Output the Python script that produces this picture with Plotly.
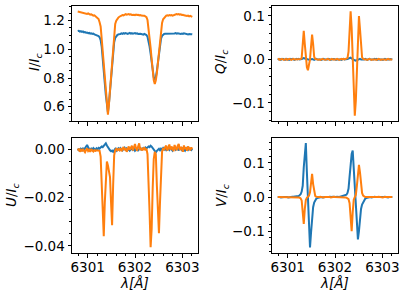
import numpy as np
import plotly.graph_objects as go

# Regularly sampled wavelength grid (Angstrom), 111 points
WL_START = 6300.79
WL_STEP = 0.022
N_PTS = 111
wavelength = np.round(WL_START + WL_STEP * np.arange(N_PTS), 3)

# ---- Stokes I / Ic ----
I_blue = [
    1.128, 1.130, 1.124, 1.127, 1.122, 1.125, 1.119, 1.121, 1.116, 1.118, 1.113, 1.115, 1.110, 1.112, 1.108, 1.110, 1.105, 1.103, 1.100,
    1.098, 1.093, 1.085, 1.065, 1.020, 0.950, 0.870, 0.765, 0.680, 0.605, 0.560, 0.625, 0.720, 0.820, 0.910, 0.995, 1.050, 1.080, 1.093, 1.100, 1.105,
    1.105, 1.108, 1.112, 1.109, 1.113, 1.110, 1.114, 1.111, 1.108, 1.112, 1.115, 1.110, 1.113, 1.109, 1.112, 1.114, 1.110, 1.112, 1.108, 1.111, 1.109, 1.107, 1.105, 1.103,
    1.108, 1.105, 1.100, 1.088, 1.060, 1.020, 0.970, 0.910, 0.850, 0.805, 0.785, 0.805, 0.850, 0.910, 0.975, 1.035, 1.075, 1.095, 1.104, 1.108, 1.110,
    1.110, 1.108, 1.112, 1.109, 1.113, 1.110, 1.112, 1.108, 1.111, 1.114, 1.110, 1.112, 1.109, 1.111, 1.107, 1.110, 1.108, 1.112, 1.109, 1.106, 1.108, 1.105, 1.107, 1.104, 1.106, 1.105,
]
I_orange = [
    1.264, 1.262, 1.265, 1.258, 1.260, 1.256, 1.252, 1.255, 1.250, 1.248, 1.251, 1.246, 1.243, 1.245, 1.240, 1.236, 1.238, 1.232, 1.228,
    1.222, 1.212, 1.190, 1.160, 1.075, 0.980, 0.885, 0.770, 0.680, 0.595, 0.544, 0.620, 0.720, 0.830, 0.930, 1.040, 1.120, 1.178, 1.200, 1.213, 1.222,
    1.228, 1.232, 1.236, 1.240, 1.238, 1.243, 1.246, 1.242, 1.244, 1.247, 1.243, 1.245, 1.241, 1.244, 1.242, 1.239, 1.243, 1.240, 1.242, 1.238, 1.240, 1.236, 1.238, 1.235,
    1.235, 1.232, 1.225, 1.205, 1.150, 1.080, 1.010, 0.930, 0.850, 0.785, 0.758, 0.785, 0.835, 0.910, 0.985, 1.065, 1.140, 1.185, 1.210, 1.222, 1.230,
    1.236, 1.238, 1.235, 1.240, 1.237, 1.240, 1.236, 1.238, 1.241, 1.243, 1.246, 1.244, 1.247, 1.243, 1.245, 1.240, 1.242, 1.238, 1.236, 1.239, 1.233, 1.236, 1.231, 1.234, 1.229, 1.227,
]

# ---- Stokes Q / Ic ----
Q_blue = [
    0.001, 0.000, 0.001, -0.001, 0.000, 0.001, 0.000, -0.001, 0.001, 0.000, 0.000, -0.001, 0.001, 0.000, 0.001, 0.000, -0.001, 0.000, 0.001,
    0.000, 0.001, 0.000, 0.000, 0.001, 0.002, 0.003, 0.002, 0.001, 0.000, -0.001, -0.001, 0.000, 0.001, 0.001, 0.000, -0.001, 0.000, 0.001, 0.000, 0.000,
    0.001, 0.000, -0.001, 0.000, 0.001, 0.000, 0.000, -0.001, 0.000, 0.001, 0.000, -0.001, 0.000, 0.001, 0.001, 0.000, -0.001, 0.000, 0.000, 0.001, 0.000, -0.001, 0.000, 0.001,
    0.000, 0.000, 0.001, 0.001, 0.002, 0.003, 0.004, 0.002, 0.000, -0.001, -0.002, -0.003, -0.002, -0.001, 0.000, 0.001, 0.000, 0.000, -0.001, 0.000, 0.001,
    0.000, -0.001, 0.000, 0.001, 0.000, 0.000, -0.001, 0.000, 0.001, 0.000, 0.001, -0.001, 0.000, 0.000, 0.001, 0.000, -0.001, 0.000, 0.001, 0.000, 0.000, -0.001, 0.000, 0.001, 0.000, 0.000,
]
Q_orange = [
    0.000, 0.001, -0.001, 0.000, 0.001, 0.000, -0.001, 0.000, 0.001, -0.001, 0.000, 0.001, 0.000, -0.001, 0.000, 0.001, 0.000, 0.000, 0.001,
    0.000, 0.000, 0.001, 0.001, 0.003, 0.030, 0.066, 0.035, 0.000, -0.018, -0.025, -0.015, 0.000, 0.030, 0.057, 0.035, 0.006, 0.001, 0.000, 0.000, -0.001,
    0.000, -0.001, 0.000, 0.001, 0.000, -0.001, -0.001, 0.000, 0.001, 0.000, -0.001, 0.000, 0.001, 0.000, 0.000, -0.001, 0.000, 0.001, 0.000, -0.001, 0.000, 0.001, 0.000, 0.001,
    0.000, 0.001, 0.001, 0.003, 0.018, 0.060, 0.111, 0.072, 0.015, -0.060, -0.130, -0.095, -0.020, 0.045, 0.100, 0.070, 0.022, 0.005, 0.001, 0.000, 0.000,
    0.000, -0.001, 0.000, 0.001, 0.000, -0.001, 0.000, 0.000, 0.001, 0.000, -0.001, 0.000, 0.001, 0.000, -0.001, 0.000, 0.000, 0.001, 0.000, -0.001, 0.000, 0.001, 0.000, 0.000, -0.001, 0.000,
]

# ---- Stokes U / Ic ----
U_blue = [
    -0.0005, 0.0003, -0.0008, 0.0002, -0.0003, 0.0006, -0.0002, 0.0004, 0.0010, 0.0018, 0.0008, 0.0002, -0.0004, 0.0003, -0.0002, 0.0005, 0.0001, -0.0003, 0.0004,
    0.0000, 0.0006, 0.0003, 0.0008, 0.0012, 0.0009, 0.0015, 0.0020, 0.0025, 0.0016, 0.0008, 0.0002, -0.0004, -0.0008, -0.0005, -0.0010, -0.0003, 0.0002, -0.0006, 0.0001, 0.0004,
    -0.0002, 0.0005, 0.0001, -0.0004, 0.0003, 0.0007, -0.0001, 0.0004, -0.0003, 0.0002, -0.0005, 0.0001, 0.0004, -0.0002, 0.0003, -0.0006, 0.0000, 0.0003, -0.0004, 0.0002, 0.0005, -0.0001, 0.0004, 0.0006,
    0.0003, 0.0008, 0.0004, 0.0010, 0.0012, 0.0009, 0.0015, 0.0011, 0.0006, -0.0002, -0.0008, -0.0012, -0.0006, -0.0003, 0.0002, -0.0004, 0.0003, -0.0002, 0.0005, -0.0001, 0.0004,
    -0.0003, 0.0002, 0.0006, -0.0002, 0.0004, 0.0001, -0.0005, 0.0003, 0.0008, -0.0001, 0.0005, 0.0002, -0.0004, 0.0006, 0.0001, -0.0003, 0.0004, 0.0000, -0.0006, 0.0003, 0.0007, -0.0002, 0.0004, 0.0001, -0.0003, 0.0002,
]
U_orange = [
    -0.0005, 0.0003, -0.0010, -0.0002, -0.0008, 0.0002, -0.0006, -0.0012, -0.0003, 0.0004, -0.0007, -0.0002, -0.0010, 0.0001, -0.0005, -0.0009, -0.0003, -0.0006, -0.0004,
    -0.0005, -0.0008, -0.0006, -0.0030, -0.0120, -0.0250, -0.0360, -0.0220, -0.0094, -0.0050, -0.0067, -0.0087, -0.0115, -0.0220, -0.0314, -0.0150, -0.0025, -0.0003, 0.0002, -0.0004, 0.0001,
    -0.0003, 0.0005, -0.0008, 0.0002, 0.0010, -0.0004, 0.0006, -0.0010, 0.0003, 0.0012, -0.0002, 0.0008, 0.0015, -0.0005, 0.0010, 0.0022, 0.0004, -0.0006, 0.0012, 0.0025, -0.0003, 0.0006, -0.0004, 0.0002,
    0.0008, -0.0004, 0.0003, -0.0020, -0.0120, -0.0260, -0.0405, -0.0330, -0.0160, -0.0040, -0.0010, -0.0020, -0.0150, -0.0275, -0.0347, -0.0220, -0.0067, -0.0010, 0.0006, -0.0003, 0.0010,
    0.0015, -0.0005, 0.0008, 0.0020, -0.0002, 0.0012, 0.0005, -0.0008, 0.0018, 0.0006, -0.0004, 0.0014, 0.0022, -0.0003, 0.0010, 0.0004, -0.0010, 0.0016, 0.0002, 0.0009, -0.0006, 0.0012, 0.0003, -0.0004, 0.0008, 0.0001,
]

# ---- Stokes V / Ic ----
V_blue = [
    0.000, 0.001, 0.000, -0.001, 0.000, 0.001, 0.000, 0.000, 0.001, 0.000, -0.001, 0.000, 0.001, 0.000, 0.001, 0.001, 0.001, 0.002, 0.002,
    0.002, 0.003, 0.005, 0.008, 0.016, 0.033, 0.087, 0.131, 0.158, 0.073, -0.016, -0.104, -0.148, -0.104, -0.060, -0.030, -0.016, -0.009, -0.005, -0.003, -0.002,
    -0.001, -0.001, 0.000, -0.001, 0.000, 0.001, 0.000, 0.000, -0.001, 0.000, 0.001, 0.000, 0.000, 0.001, 0.000, -0.001, 0.000, 0.001, 0.000, 0.000, 0.001, 0.002, 0.002, 0.003,
    0.004, 0.005, 0.007, 0.012, 0.025, 0.060, 0.100, 0.126, 0.136, 0.085, 0.020, -0.045, -0.100, -0.124, -0.100, -0.060, -0.035, -0.022, -0.015, -0.009, -0.005,
    -0.003, -0.002, -0.001, -0.001, 0.000, -0.001, 0.000, 0.000, 0.001, 0.000, -0.001, 0.000, 0.000, 0.001, 0.000, 0.000, -0.001, 0.000, 0.001, 0.000, 0.000, -0.001, 0.000, 0.000, 0.001, 0.000,
]
V_orange = [
    0.000, 0.000, 0.001, 0.000, -0.001, 0.000, 0.000, 0.001, 0.000, 0.000, -0.001, 0.000, 0.001, 0.000, 0.000, -0.001, 0.000, 0.000, -0.001,
    -0.001, -0.001, -0.002, -0.004, -0.010, -0.040, -0.079, -0.035, -0.009, -0.002, 0.001, 0.004, 0.014, 0.043, 0.068, 0.038, 0.012, 0.003, 0.001, 0.000, 0.000,
    0.000, 0.001, 0.000, 0.000, -0.001, 0.000, 0.001, 0.000, 0.000, 0.001, 0.000, -0.001, 0.000, 0.000, 0.001, 0.000, 0.000, -0.001, 0.000, 0.000, 0.001, 0.000, -0.001, 0.000,
    0.000, -0.001, -0.002, -0.003, -0.006, -0.018, -0.055, -0.100, -0.045, -0.008, 0.000, 0.006, 0.033, 0.072, 0.094, 0.072, 0.033, 0.012, 0.004, 0.001, 0.000,
    0.000, 0.001, 0.000, 0.000, -0.001, 0.000, 0.000, 0.001, 0.000, 0.000, -0.001, 0.000, 0.001, 0.000, 0.000, 0.000, -0.001, 0.000, 0.000, 0.001, 0.000, 0.000, -0.001, 0.000, 0.000, 0.000,
]

series = {"I_blue": I_blue, "I_orange": I_orange, "Q_blue": Q_blue, "Q_orange": Q_orange,
          "U_blue": U_blue, "U_orange": U_orange, "V_blue": V_blue, "V_orange": V_orange}
for name, vals in series.items():
    if len(vals) != N_PTS:
        raise ValueError(f"{name} has {len(vals)} values")

BLUE = "#1f77b4"
ORANGE = "#ff7f0e"
FONT = "DejaVu Sans"
FS = 13.5

panels = [
    # (blue, orange, xaxis id, yaxis id, title, y range, tickformat, y dtick, y minor dtick)
    (I_blue, I_orange, "x", "y", "<i>I</i>/<i>I<sub>c</sub></i>", [0.50, 1.303], ".1f", 0.2, 0.05),
    (Q_blue, Q_orange, "x2", "y2", "<i>Q</i>/<i>I<sub>c</sub></i>", [-0.142, 0.123], ".1f", 0.1, 0.02),
    (U_blue, U_orange, "x3", "y3", "<i>U</i>/<i>I<sub>c</sub></i>", [-0.0429, 0.0047], ".2f", 0.02, 0.005),
    (V_blue, V_orange, "x4", "y4", "<i>V</i>/<i>I<sub>c</sub></i>", [-0.164, 0.173], ".1f", 0.1, 0.02),
]

fig = go.Figure()
for blue, orange, xa, ya, *_ in panels:
    fig.add_trace(go.Scatter(x=wavelength, y=blue, mode="lines", line=dict(color=BLUE, width=2),
                             xaxis=xa, yaxis=ya, showlegend=False))
    fig.add_trace(go.Scatter(x=wavelength, y=orange, mode="lines", line=dict(color=ORANGE, width=2),
                             xaxis=xa, yaxis=ya, showlegend=False))

W, H = 407, 298
ML, MR, MT, MB = 72, 9, 6, 45
pw = W - ML - MR
ph = H - MT - MB
xdom_left = [0, 126 / pw]
xdom_right = [200 / pw, 1]
ydom_top = [(253 - 121) / ph, 1]
ydom_bot = [0, 115 / ph]

common_axis = dict(showline=True, linecolor="black", linewidth=1, mirror=True,
                   ticks="outside", ticklen=3.5, tickwidth=0.9, tickcolor="black",
                   showgrid=False, zeroline=False, automargin=False,
                   tickfont=dict(family=FONT, size=FS, color="black"))

XRANGE = [6300.669, 6303.331]
layout = dict(width=W, height=H, margin=dict(l=ML, r=MR, t=MT, b=MB),
              paper_bgcolor="white", plot_bgcolor="white",
              font=dict(family=FONT, size=FS, color="black"))

xdoms = [xdom_left, xdom_right, xdom_left, xdom_right]
ydoms = [ydom_top, ydom_top, ydom_bot, ydom_bot]
# y-title centre positions in pixels (x, y)
ytitle_px = [(35, 62), (221, 62), (12, 195), (222, 195)]
annotations = []
for n, (blue, orange, xa, ya, title, yr, tf, dt, mdt) in enumerate(panels):
    suffix = "" if n == 0 else str(n + 1)
    bottom = n >= 2
    xax = dict(common_axis, domain=xdoms[n], range=XRANGE, anchor="y" + suffix,
               tickmode="linear", tick0=6301, dtick=1, tickformat="d",
               showticklabels=bottom, ticklabelstandoff=-2,
               minor=dict(ticks="outside", ticklen=2, tickwidth=0.7, tickcolor="black",
                          tick0=6301, dtick=0.2, showgrid=False))
    if bottom:
        xax["title"] = dict(text="<i>λ[Å]</i>", font=dict(family=FONT, size=FS), standoff=4)
    yax = dict(common_axis, domain=ydoms[n], range=yr, anchor="x" + suffix,
               tickmode="linear", tick0=0, dtick=dt, tickformat=tf,
               minor=dict(ticks="outside", ticklen=2, tickwidth=0.7, tickcolor="black",
                          tick0=0, dtick=mdt, showgrid=False))
    layout["xaxis" + suffix] = xax
    layout["yaxis" + suffix] = yax
    px, py = ytitle_px[n]
    annotations.append(dict(text=title, textangle=-90, showarrow=False,
                            xref="paper", yref="paper",
                            x=(px - ML) / pw, y=1 - (py - MT) / ph,
                            xanchor="center", yanchor="middle",
                            font=dict(family=FONT, size=FS, color="black")))
layout["annotations"] = annotations

fig.update_layout(**layout)
fig.write_html("out.html", config={"displayModeBar": False},
               post_script="document.body.style.margin='0';document.body.style.padding='0';")
